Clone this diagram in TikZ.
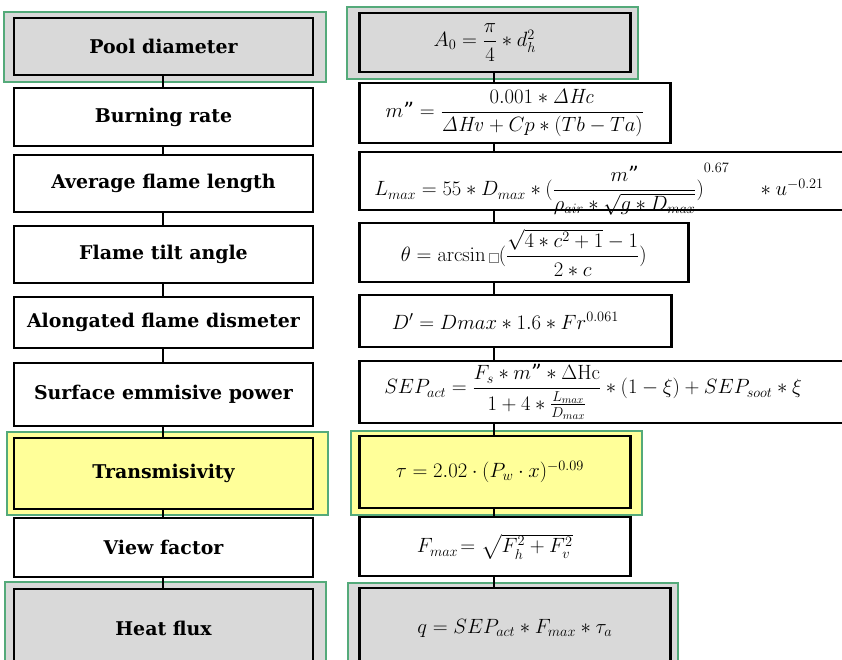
\documentclass[tikz,border=0pt]{standalone}
\usepackage[no-math]{fontspec}
\setmainfont{DejaVu Serif}
\usepackage{amsmath}

\definecolor{framegreen}{RGB}{84,170,122}
\definecolor{boxgray}{RGB}{217,217,217}
\definecolor{boxyellow}{RGB}{255,255,153}

% small empty glyph box printed after arcsin
\newcommand{\tofubox}{\mbox{\color{gray}\setlength{\fboxsep}{0pt}\setlength{\fboxrule}{0.4pt}\fbox{\rule{0pt}{9pt}\hspace{9pt}}}}

\begin{document}
\begin{tikzpicture}[
            x=1bp, y=-1bp,
            every node/.style={font=\fontsize{19}{23}\selectfont},
            box/.style={rectangle, draw, line width=2.6pt, inner sep=2pt, align=center},
            stepbox/.style={box, minimum width=299bp, font=\bfseries\fontsize{19}{23}\selectfont},
            eqbox/.style={box, anchor=west, font=\fontsize{21}{25}\selectfont},
            widebox/.style={eqbox, text width=482bp, align=left, inner xsep=15bp},
            frame/.style={rectangle, draw=framegreen, line width=1.8pt},
            link/.style={line width=2pt}
        ]
        \useasboundingbox (0,0) rectangle (842,660);
        \clip (0,0) rectangle (842,660);

        % Highlight frames — drawn first so the boxes sit on top
        \node[frame, fill=boxgray, minimum width=322bp, minimum height=70bp] (pool_frame) at (165,47) {};
        \node[frame, fill=boxyellow, minimum width=321bp, minimum height=83bp] (trans_frame) at (167.5,473.5) {};
        \node[frame, fill=boxgray, minimum width=321bp, minimum height=93bp] (flux_frame) at (165.5,628.5) {};

        \node[frame, fill=boxgray, minimum width=291bp, minimum height=72bp] (area_frame) at (492.5,43) {};
        \node[frame, fill=boxyellow, minimum width=291bp, minimum height=84bp] (tau_frame) at (496.5,473) {};
        \node[frame, fill=boxgray, minimum width=330bp, minimum height=92bp] (q_frame) at (513,629) {};

        % Steps — left column
        \node[stepbox, fill=boxgray, minimum height=57bp] (pool_d) at (163.5,46.5) {Pool diameter};
        \node[stepbox, fill=white, minimum height=58bp] (burn_rate) at (163.5,117) {Burning rate};
        \node[stepbox, fill=white, minimum height=57bp] (flame_len) at (163.5,183.5) {Average flame length};
        \node[stepbox, fill=white, minimum height=57bp] (tilt_ang) at (163.5,254.5) {Flame tilt angle};
        \node[stepbox, fill=white, minimum height=51bp] (elong_d) at (163.5,322.5) {Alongated flame dismeter};
        \node[stepbox, fill=white, minimum height=63bp] (sep_pow) at (163.5,394.5) {Surface emmisive power};
        \node[stepbox, fill=boxyellow, minimum height=71bp] (trans) at (163.5,473.5) {Transmisivity};
        \node[stepbox, fill=white, minimum height=59bp] (view_f) at (163.5,547.5) {View factor};
        \node[stepbox, fill=boxgray, minimum height=79bp] (heat_flux) at (163.5,628.5) {Heat flux};

        % Equations — right column
        \coordinate (col_l) at (163,0);
        \coordinate (col_r) at (494,0);
        \node[eqbox, fill=boxgray, minimum width=271bp, minimum height=59bp] (eq_area) at (358,42.5)
            {$A_0 = \dfrac{\pi}{4} * d_h^2$\hspace{20bp}};
        \node[eqbox, fill=white, minimum width=311bp, minimum height=60bp] (eq_burn) at (358,113)
            {$m\text{"} = \dfrac{0.001 * \mathit{\Delta Hc}}{\mathit{\Delta Hv} + Cp * (Tb - Ta)}$};
        % formula sits low, its denominator runs over the bottom edge
        \node[widebox, fill=white, minimum height=58bp, text height=30pt, text depth=0pt] (eq_len) at (358,181)
            {$L_{max} = 55 * D_{max} * {(\dfrac{m\text{"}}{\rho_{air} * \sqrt{g * D_{max}}})}^{0.67} \quad\; * u^{-0.21}$};
        \node[eqbox, fill=white, minimum width=329bp, minimum height=59bp] (eq_tilt) at (358,252.5)
            {$\theta = \arcsin\tofubox(\dfrac{\sqrt{4 * c^2 + 1} - 1}{2 * c})$};
        \node[eqbox, fill=white, minimum width=312bp, minimum height=52bp] (eq_elong) at (358,321)
            {$D' = Dmax * 1.6 * Fr^{0.061}$\hspace{20bp}};
        \node[widebox, fill=white, minimum height=62bp] (eq_sep) at (358,392)
            {\hspace{10bp}$SEP_{act} = \dfrac{F_s * m\text{"} * \Delta\mathrm{Hc}}{1 + 4 * \frac{L_{max}}{D_{max}}} * (1 - \xi) + SEP_{soot} * \xi$};
        \node[eqbox, fill=boxyellow, minimum width=271bp, minimum height=72bp] (eq_trans) at (358,472)
            {$\tau = 2.02 \cdot (P_w \cdot x)^{-0.09}$\hspace{10bp}};
        \node[eqbox, fill=white, minimum width=271bp, minimum height=59bp] (eq_view) at (358,546.5)
            {$F_{max}\!= \sqrt{F_h^2 + F_v^2}$};
        \node[eqbox, fill=boxgray, minimum width=311bp, minimum height=80bp] (eq_flux) at (358,628)
            {$q = SEP_{act} * F_{max} * \tau_a$};

        % === LINKS — left column ===
        \draw[link] (pool_d.south -| col_l) -- (burn_rate.north -| col_l);
        \draw[link] (burn_rate.south -| col_l) -- (flame_len.north -| col_l);
        \draw[link] (flame_len.south -| col_l) -- (tilt_ang.north -| col_l);
        \draw[link] (tilt_ang.south -| col_l) -- (elong_d.north -| col_l);
        \draw[link] (elong_d.south -| col_l) -- (sep_pow.north -| col_l);
        \draw[link] (sep_pow.south -| col_l) -- (trans.north -| col_l);
        \draw[link] (trans.south -| col_l) -- (view_f.north -| col_l);
        \draw[link] (view_f.south -| col_l) -- (heat_flux.north -| col_l);

        % === LINKS — right column, all on one vertical ===
        \draw[link] (eq_area.south -| col_r) -- (eq_burn.north -| col_r);
        \draw[link] (eq_burn.south -| col_r) -- (eq_len.north -| col_r);
        \draw[link] (eq_len.south -| col_r) -- (eq_tilt.north -| col_r);
        \draw[link] (eq_tilt.south -| col_r) -- (eq_elong.north -| col_r);
        \draw[link] (eq_elong.south -| col_r) -- (eq_sep.north -| col_r);
        \draw[link] (eq_sep.south -| col_r) -- (eq_trans.north -| col_r);
        \draw[link] (eq_trans.south -| col_r) -- (eq_view.north -| col_r);
        \draw[link] (eq_view.south -| col_r) -- (eq_flux.north -| col_r);

    \end{tikzpicture}
\end{document}
